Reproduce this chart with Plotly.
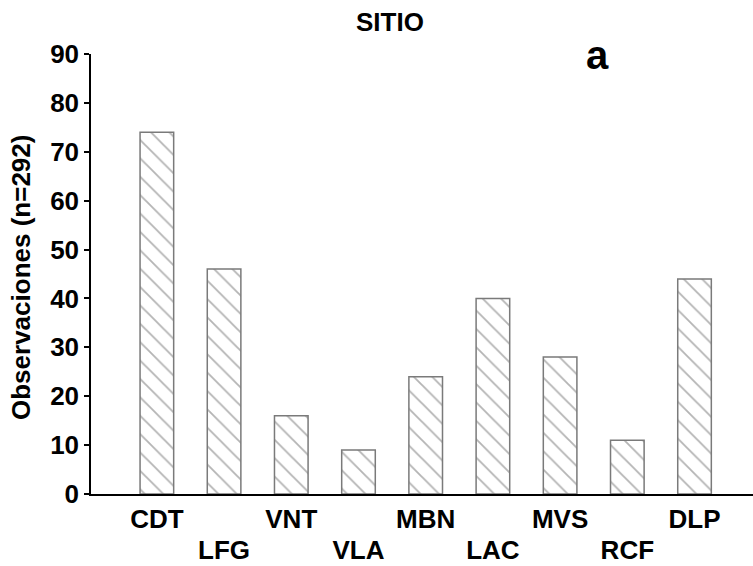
import plotly.graph_objects as go

categories = ["CDT", "LFG", "VNT", "VLA", "MBN", "LAC", "MVS", "RCF", "DLP"]
values = [74, 46, 16, 9, 24, 40, 28, 11, 44]
y_ticks = [0, 10, 20, 30, 40, 50, 60, 70, 80, 90]

positions = list(range(len(categories)))
row1_vals = [p for p in positions if p % 2 == 0]
row1_text = [categories[p] for p in row1_vals]
row2_vals = [p for p in positions if p % 2 == 1]
row2_text = [categories[p] for p in row2_vals]

FONT = "Liberation Sans, Arial, sans-serif"
GRAY = "#7a7a7a"
HATCH = "#6a6a6a"
XRANGE = [-0.98, 8.87]

fig = go.Figure()
fig.add_trace(
    go.Bar(
        x=positions,
        y=values,
        width=0.5,
        marker=dict(
            color="white",
            line=dict(color=GRAY, width=1.5),
            pattern=dict(shape="\\", fgcolor=HATCH, bgcolor="white", size=13, solidity=0.14),
        ),
        hoverinfo="skip",
    )
)
# invisible helper so the second-row label axis is drawn
fig.add_trace(go.Scatter(x=[positions[0]], y=[0], xaxis="x2", yaxis="y",
                         mode="markers", marker=dict(opacity=0), hoverinfo="skip"))

tickfont = dict(family=FONT, size=26, color="black", weight="bold")

fig.update_layout(
    width=753,
    height=566,
    margin=dict(l=91, r=0, t=54, b=72),
    plot_bgcolor="white",
    paper_bgcolor="white",
    showlegend=False,
    font=dict(family=FONT, size=26, color="black", weight="bold"),
    xaxis=dict(
        range=XRANGE,
        tickvals=row1_vals,
        ticktext=row1_text,
        showline=True,
        linecolor="black",
        linewidth=1.5,
        ticks="",
        showgrid=False,
        zeroline=False,
        tickfont=tickfont,
        automargin=False,
        ticklabelstandoff=1,
    ),
    xaxis2=dict(
        range=XRANGE,
        overlaying="x",
        side="bottom",
        anchor="y",
        tickvals=row2_vals,
        ticktext=row2_text,
        showline=False,
        ticks="",
        showgrid=False,
        zeroline=False,
        tickfont=tickfont,
        automargin=False,
        ticklabelstandoff=38,
    ),
    yaxis=dict(
        range=[0, 90],
        tickvals=y_ticks,
        showline=True,
        linecolor="black",
        linewidth=1.5,
        ticks="outside",
        ticklen=5,
        tickwidth=1.5,
        tickcolor="black",
        showgrid=False,
        zeroline=False,
        tickfont=tickfont,
        automargin=False,
    ),
)

fig.add_annotation(
    text="SITIO", xref="paper", yref="paper", x=(390 - 91) / 662, y=(494 - 22) / 440,
    xanchor="center", yanchor="middle", showarrow=False,
    font=dict(family=FONT, size=26, color="black", weight="bold"),
)
fig.add_annotation(
    text="a", xref="paper", yref="paper", x=(597 - 91) / 662, y=(494 - 55) / 440,
    xanchor="center", yanchor="middle", showarrow=False,
    font=dict(family=FONT, size=40, color="black", weight="bold"),
)
fig.add_annotation(
    text="Observaciones (n=292)", xref="paper", yref="paper", x=(21 - 91) / 662, y=(494 - 278) / 440,
    xanchor="center", yanchor="middle", showarrow=False, textangle=-90,
    font=dict(family=FONT, size=26, color="black", weight="bold"),
)

fig.write_html(
    "out.html",
    config={"displayModeBar": False},
    post_script="document.body.style.margin='0px';document.body.style.overflow='hidden';",
)
